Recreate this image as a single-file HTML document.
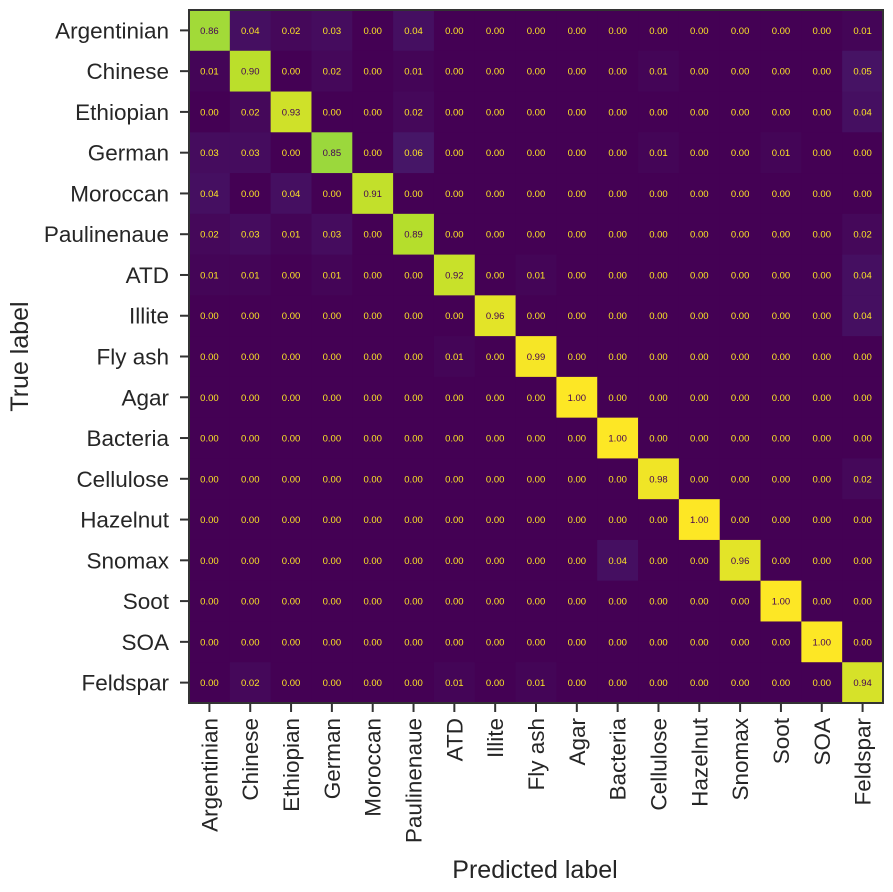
<!DOCTYPE html>
<html><head><meta charset="utf-8"><style>
html,body{margin:0;padding:0;background:#fff;}
svg text{font-family:"Liberation Sans",sans-serif;}
</style></head><body>
<svg id="chart" width="893" height="887" xmlns="http://www.w3.org/2000/svg"></svg>
<script>
const labels=["Argentinian","Chinese","Ethiopian","German","Moroccan","Paulinenaue","ATD","Illite","Fly ash","Agar","Bacteria","Cellulose","Hazelnut","Snomax","Soot","SOA","Feldspar"];
const row0=[.86,.04,.02,.03,0,.04,0,0,0,0,0,0,0,0,0,0,.01];
const row1=[.01,.90,0,.02,0,.01,0,0,0,0,0,.01,0,0,0,0,.05];
const row2=[0,.02,.93,0,0,.02,0,0,0,0,0,0,0,0,0,0,.04];
const row3=[.03,.03,0,.85,0,.06,0,0,0,0,0,.01,0,0,.01,0,0];
const row4=[.04,0,.04,0,.91,0,0,0,0,0,0,0,0,0,0,0,0];
const row5=[.02,.03,.01,.03,0,.89,0,0,0,0,0,0,0,0,0,0,.02];
const row6=[.01,.01,0,.01,0,0,.92,0,.01,0,0,0,0,0,0,0,.04];
const row7=[0,0,0,0,0,0,0,.96,0,0,0,0,0,0,0,0,.04];
const row8=[0,0,0,0,0,0,.01,0,.99,0,0,0,0,0,0,0,0];
const row9=[0,0,0,0,0,0,0,0,0,1,0,0,0,0,0,0,0];
const row10=[0,0,0,0,0,0,0,0,0,0,1,0,0,0,0,0,0];
const row11=[0,0,0,0,0,0,0,0,0,0,0,.98,0,0,0,0,.02];
const row12=[0,0,0,0,0,0,0,0,0,0,0,0,1,0,0,0,0];
const row13=[0,0,0,0,0,0,0,0,0,0,.04,0,0,.96,0,0,0];
const row14=[0,0,0,0,0,0,0,0,0,0,0,0,0,0,1,0,0];
const row15=[0,0,0,0,0,0,0,0,0,0,0,0,0,0,0,1,0];
const row16=[0,.02,0,0,0,0,.01,0,.01,0,0,0,0,0,0,0,.94];
const matrix=[row0,row1,row2,row3,row4,row5,row6,row7,row8,row9,row10,row11,row12,row13,row14,row15,row16];

const NS="http://www.w3.org/2000/svg";
const svg=document.getElementById('chart');
const L=189,T=10,R=883,B=703,n=labels.length;
const cw=(R-L)/n,ch=(B-T)/n;
const xPos=i=>L+i*cw, yPos=i=>T+i*ch;
const vir=[[68,1,84],[72,40,120],[62,73,137],[49,104,142],[38,130,142],[31,158,137],[53,183,121],[109,205,89],[180,222,44],[253,231,37]];
function viridis(t){t=Math.max(0,Math.min(1,t));const s=t*(vir.length-1);const i=Math.min(Math.floor(s),vir.length-2);const f=s-i;const c=vir[i].map((v,k)=>Math.round(v+(vir[i+1][k]-v)*f));return `rgb(${c[0]},${c[1]},${c[2]})`;}
function mk(tag,attrs){const e=document.createElementNS(NS,tag);for(const k in attrs)e.setAttribute(k,attrs[k]);svg.appendChild(e);return e;}

matrix.forEach((row,r)=>row.forEach((v,c)=>{
  const rect=mk('rect',{x:xPos(c),y:yPos(r),width:cw+0.5,height:ch+0.5,fill:viridis(v)});
  
  
  const t=mk('text',{x:xPos(c)+cw/2,y:yPos(r)+ch/2+3.5,'text-anchor':'middle','font-size':'9.5',fill:v>0.5?'#440154':'#fde725'});
  t.textContent=v.toFixed(2);
  
  
}));
const frame=mk('rect',{x:L,y:T,width:R-L,height:B-T,fill:'none',stroke:'#333',"stroke-width":2});


labels.forEach((lab,i)=>{
  const cy=yPos(i)+ch/2;
  mk('line',{x1:L-9,x2:L,y1:cy,y2:cy,stroke:'#333','stroke-width':2});
  const t=mk('text',{x:L-20,y:cy+8,'text-anchor':'end','font-size':'22.5',fill:'#262626'});
  t.textContent=lab;
  
  
  const cx=xPos(i)+cw/2;
  mk('line',{x1:cx,x2:cx,y1:B,y2:B+9,stroke:'#333','stroke-width':2});
  const tx=mk('text',{x:0,y:0,'text-anchor':'end','font-size':'22.5',fill:'#262626',transform:`translate(${cx+8},${B+15}) rotate(-90)`});
  tx.textContent=lab;
  
  
});
const yt=mk('text',{x:0,y:0,'text-anchor':'middle','font-size':'25',fill:'#262626',transform:`translate(28,${(T+B)/2}) rotate(-90)`});
yt.textContent='True label';


const xt=mk('text',{x:(L+R)/2-1,y:878,'text-anchor':'middle','font-size':'25',fill:'#262626'});
xt.textContent='Predicted label';


</script>
</body></html>
